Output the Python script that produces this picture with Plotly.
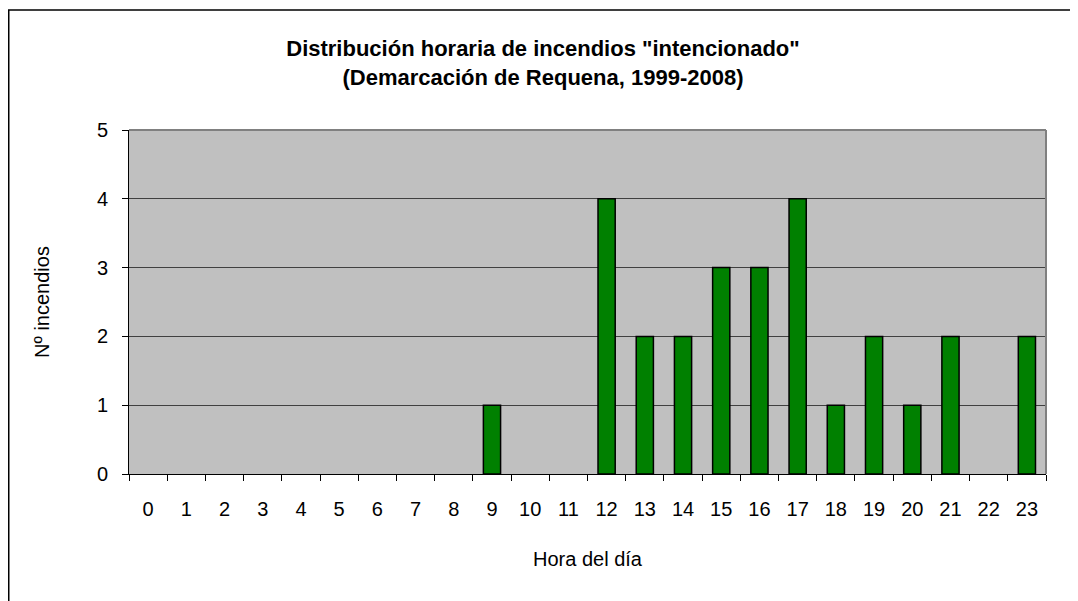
import plotly.graph_objects as go

hours = [str(h) for h in range(24)]
counts = [0, 0, 0, 0, 0, 0, 0, 0, 0, 1, 0, 0, 4, 2, 2, 3, 3, 4, 1, 2, 1, 2, 0, 2]

OFF = 8  # default page body margin
W, H = 1078 - OFF, 601 - OFF
L, R, T, B = 129 - OFF, 1046 - OFF, 130 - OFF, 474 - OFF
pw, ph = R - L, B - T

def px(x):
    return (x - L) / pw

def py(y):
    return (B - y) / ph

FONT = "Liberation Sans Narrow, Arial Narrow, Arial, Liberation Sans, sans-serif"

fig = go.Figure()
fig.add_trace(go.Bar(
    x=hours, y=[c if c else None for c in counts],
    marker=dict(color="#008000", line=dict(color="#000000", width=1.5)),
    width=0.45,
))

fig.update_layout(
    width=W, height=H,
    margin=dict(l=L, r=W - R, t=T, b=H - B),
    paper_bgcolor="white",
    plot_bgcolor="#C0C0C0",
    showlegend=False,
    font=dict(family=FONT, color="black", size=20),
    title=dict(
        text="<b>Distribución horaria de incendios \"intencionado\"<br>(Demarcación de Requena, 1999-2008)</b>",
        x=0.5, xref="container", xanchor="center",
        y=(H - 48) / H, yref="container", yanchor="middle",
        font=dict(family=FONT, size=22, color="black"),
    ),
    xaxis=dict(
        type="category",
        range=[-0.5, 23.5],
        tickson="boundaries",
        ticks="outside", ticklen=6, tickcolor="black", tickwidth=1,
        ticklabelstandoff=17,
        showline=True, linecolor="black", linewidth=1,
        showgrid=False,
        tickfont=dict(size=20),
        title=dict(text="Hora del día", font=dict(size=20), standoff=32),
    ),
    yaxis=dict(
        range=[0, 5], dtick=1,
        ticks="outside", ticklen=6, tickcolor="black", tickwidth=1,
        ticklabelstandoff=10,
        showline=True, linecolor="black", linewidth=1,
        showgrid=True, gridcolor="#404040", gridwidth=1,
        zeroline=False,
        tickfont=dict(size=20),
        title=dict(text="Nº incendios", font=dict(size=20), standoff=41),
    ),
    shapes=[
        dict(type="line", xref="paper", yref="paper", x0=0, x1=1, y0=1, y1=1,
             line=dict(color="#808080", width=2)),
        dict(type="line", xref="paper", yref="paper", x0=1, x1=1, y0=0, y1=1,
             line=dict(color="#808080", width=2)),
        dict(type="rect", xref="paper", yref="paper",
             x0=px(0.75), x1=px(W + 20), y0=py(H + 20), y1=py(2),
             line=dict(color="black", width=1.5), layer="below"),
    ],
)

fig.write_html("out.html")
